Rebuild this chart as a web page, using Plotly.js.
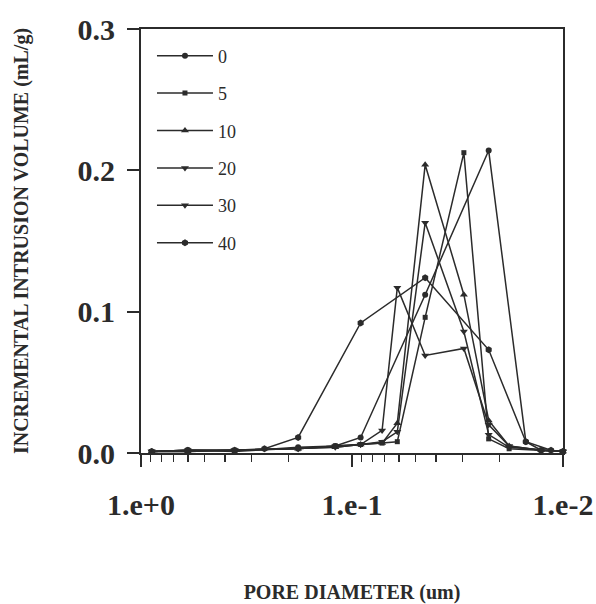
<!DOCTYPE html>
<html>
<head>
<meta charset="utf-8">
<script src="https://cdn.plot.ly/plotly-3.0.1.min.js"></script>
<style>
  html, body { margin: 0; padding: 0; background: #fff; }
  #chart { width: 596px; height: 604px; }
</style>
</head>
<body>
<div id="chart"></div>
<script>
// Pore diameter (um) and incremental intrusion volume (mL/g)
const seriesNames = ["0", "5", "10", "20", "30", "40"];

const x0 = [0.89, 0.6, 0.36, 0.18, 0.12, 0.091, 0.045, 0.0225, 0.015, 0.0127, 0.01];
const y0 = [0.001, 0.002, 0.001, 0.004, 0.005, 0.011, 0.112, 0.214, 0.008, 0.002, 0.001];

const x5 = [0.89, 0.6, 0.36, 0.18, 0.12, 0.091, 0.072, 0.061, 0.045, 0.0295, 0.0225, 0.018, 0.0127, 0.01];
const y5 = [0.001, 0.002, 0.002, 0.003, 0.005, 0.006, 0.007, 0.008, 0.096, 0.2125, 0.010, 0.003, 0.002, 0.001];

const x10 = [0.89, 0.6, 0.36, 0.18, 0.12, 0.091, 0.072, 0.061, 0.045, 0.0295, 0.0225, 0.018, 0.0127, 0.01];
const y10 = [0.001, 0.001, 0.002, 0.003, 0.004, 0.006, 0.007, 0.021, 0.204, 0.112, 0.023, 0.005, 0.002, 0.001];

const x20 = [0.89, 0.6, 0.36, 0.18, 0.12, 0.091, 0.072, 0.061, 0.045, 0.0295, 0.0225, 0.018, 0.0127, 0.01];
const y20 = [0.001, 0.001, 0.002, 0.003, 0.004, 0.006, 0.008, 0.015, 0.163, 0.086, 0.013, 0.004, 0.002, 0.001];

const x30 = [0.89, 0.6, 0.36, 0.18, 0.12, 0.091, 0.072, 0.061, 0.045, 0.0295, 0.0225, 0.018, 0.0127, 0.01];
const y30 = [0.001, 0.002, 0.002, 0.003, 0.005, 0.006, 0.016, 0.117, 0.069, 0.074, 0.020, 0.005, 0.002, 0.001];

const x40 = [0.89, 0.6, 0.36, 0.26, 0.18, 0.091, 0.045, 0.0225, 0.015, 0.0114, 0.01];
const y40 = [0.001, 0.002, 0.002, 0.003, 0.011, 0.092, 0.124, 0.073, 0.008, 0.002, 0.001];

const xTickVals = [1, 0.1, 0.01];
const xTickText = ["1.e+0", "1.e-1", "1.e-2"];
const xMinorVals = [0.9, 0.8, 0.7, 0.6, 0.5, 0.4, 0.3, 0.2, 0.09, 0.08, 0.07, 0.06, 0.05, 0.04, 0.03, 0.02];
const yTickVals = [0, 0.1, 0.2, 0.3];
const yTickText = ["0.0", "0.1", "0.2", "0.3"];

const xs = [x0, x5, x10, x20, x30, x40];
const ys = [y0, y5, y10, y20, y30, y40];
const symbols = ["circle", "square", "triangle-up", "triangle-down", "triangle-down", "hexagon"];
const sizes = [6, 5, 7, 7, 7, 7];

const ink = "#2b2b2b";
const serif = "Liberation Serif, DejaVu Serif, serif";

const traces = seriesNames.map((name, i) => ({
  type: "scatter",
  mode: "lines+markers",
  name: name,
  x: xs[i],
  y: ys[i],
  legendgroup: "g" + i,
  cliponaxis: false,
  line: { color: ink, width: 1.5 },
  marker: { color: ink, symbol: symbols[i], size: sizes[i] }
}));

const layout = {
  width: 596,
  height: 604,
  margin: { l: 141, r: 33, t: 29, b: 151 },
  paper_bgcolor: "#fff",
  plot_bgcolor: "#fff",
  font: { family: serif, color: ink },
  showlegend: true,
  legend: {
    x: 0.026, y: 0.98, xanchor: "left", yanchor: "top",
    bgcolor: "rgba(0,0,0,0)",
    font: { family: serif, size: 18, color: ink },
    itemwidth: 56,
    tracegroupgap: 11
  },
  xaxis: {
    type: "log",
    range: [0, -2],
    showline: true, mirror: true, linecolor: ink, linewidth: 2,
    showgrid: false, zeroline: false,
    ticks: "outside", ticklen: 12, tickwidth: 2, tickcolor: ink,
    tickmode: "array", tickvals: xTickVals, ticktext: xTickText,
    ticklabelstandoff: 12,
    tickfont: { family: serif, size: 30, color: ink, weight: "bold" },
    minor: { tickmode: "array", tickvals: xMinorVals, ticks: "outside", ticklen: 7, tickwidth: 1.5, tickcolor: ink, showgrid: false },
    title: { text: "<b>PORE DIAMETER (um)</b>", font: { family: serif, size: 20, color: ink }, standoff: 66 }
  },
  yaxis: {
    range: [0, 0.3],
    showline: true, mirror: true, linecolor: ink, linewidth: 2,
    showgrid: false, zeroline: false,
    ticks: "outside", ticklen: 12, tickwidth: 2, tickcolor: ink,
    tickmode: "array", tickvals: yTickVals, ticktext: yTickText,
    ticklabelstandoff: 6,
    tickfont: { family: serif, size: 30, color: ink, weight: "bold" },
    title: { text: "<b>INCREMENTAL INTRUSION VOLUME (mL/g)</b>", font: { family: serif, size: 20, color: ink }, standoff: 44 }
  }
};

Plotly.newPlot("chart", traces, layout, { displayModeBar: false, staticPlot: true });
</script>
</body>
</html>
